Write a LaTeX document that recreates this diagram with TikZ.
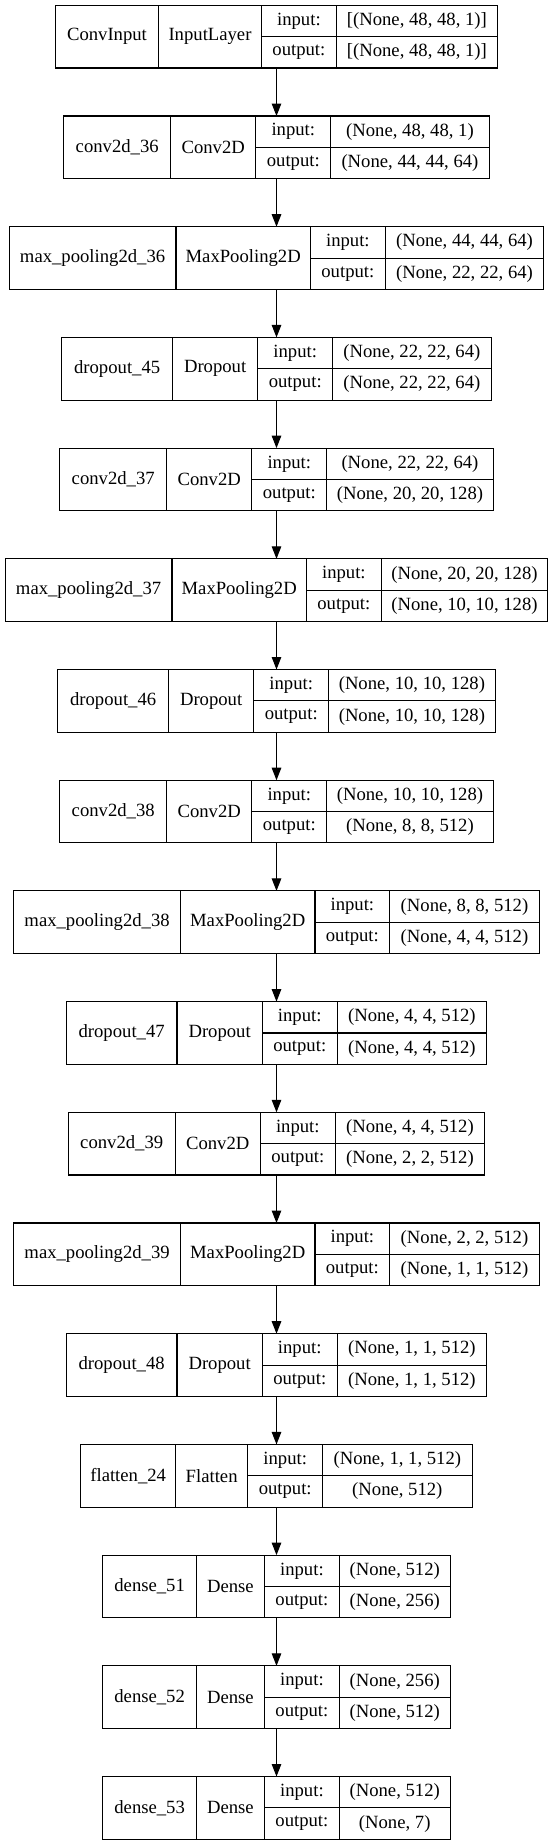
\documentclass[tikz,border=0pt]{standalone}
\usepackage{fontspec}
\setmainfont{Liberation Serif}
\usetikzlibrary{arrows.meta}

\tikzset{
  frame/.style = {rectangle, inner sep=0pt, outer sep=0pt, minimum height=62.7},
  cell/.style = {draw, rectangle, inner sep=0pt, outer sep=0pt, minimum height=62.7},
  half/.style = {draw, rectangle, inner sep=0pt, outer sep=0pt, minimum height=31.35},
  arr/.style = {-{Triangle[length=12.5pt, width=9.5pt]}}
}

% one keras layer: row, name width, type width, shape width, name, type, in, out
\newcommand{\layer}[8]{%
  \pgfmathsetmacro{\lw}{#2+#3+74.8+#4}
  \node[frame, minimum width=\lw] (L#1) at (276.5, {-(36.68+(#1-1)*110.7)}) {};
  \node[cell, minimum width=#2, anchor=north west] (n#1) at (L#1.north west) {#5};
  \node[cell, minimum width=#3, anchor=north west] (t#1) at (n#1.north east) {#6};
  \node[half, minimum width=74.8, anchor=north west] (i#1) at (t#1.north east) {input:};
  \node[half, minimum width=74.8, anchor=north west] (o#1) at (i#1.south west) {output:};
  \node[half, minimum width=#4, anchor=north west] (si#1) at (i#1.north east) {#7};
  \node[half, minimum width=#4, anchor=north west] (so#1) at (si#1.south west) {#8};
}

\begin{document}
\begin{tikzpicture}[x=1pt, y=1pt, line width=1.1pt,
    every node/.style={font=\fontsize{18.67pt}{22pt}\selectfont}]
  \path[fill=white] (0,0) rectangle (553,-1844);

  \layer{1}{103}{103}{161.2}{ConvInput}{InputLayer}{[(None, 48, 48, 1)]}{[(None, 48, 48, 1)]}
  \layer{2}{106.8}{85.3}{158.5}{conv2d\_36}{Conv2D}{(None, 48, 48, 1)}{(None, 44, 44, 64)}
  \layer{3}{166.7}{134.5}{158.5}{max\_pooling2d\_36}{MaxPooling2D}{(None, 44, 44, 64)}{(None, 22, 22, 64)}
  \layer{4}{110.6}{85.4}{158.5}{dropout\_45}{Dropout}{(None, 22, 22, 64)}{(None, 22, 22, 64)}
  \layer{5}{106.8}{85.3}{166.5}{conv2d\_37}{Conv2D}{(None, 22, 22, 64)}{(None, 20, 20, 128)}
  \layer{6}{166.7}{134.5}{166.5}{max\_pooling2d\_37}{MaxPooling2D}{(None, 20, 20, 128)}{(None, 10, 10, 128)}
  \layer{7}{110.6}{85.4}{166.5}{dropout\_46}{Dropout}{(None, 10, 10, 128)}{(None, 10, 10, 128)}
  \layer{8}{106.8}{85.3}{166.5}{conv2d\_38}{Conv2D}{(None, 10, 10, 128)}{(None, 8, 8, 512)}
  \layer{9}{166.7}{134.5}{149.5}{max\_pooling2d\_38}{MaxPooling2D}{(None, 8, 8, 512)}{(None, 4, 4, 512)}
  \layer{10}{110.6}{85.4}{149.5}{dropout\_47}{Dropout}{(None, 4, 4, 512)}{(None, 4, 4, 512)}
  \layer{11}{106.8}{85.3}{149.5}{conv2d\_39}{Conv2D}{(None, 4, 4, 512)}{(None, 2, 2, 512)}
  \layer{12}{166.7}{134.5}{149.5}{max\_pooling2d\_39}{MaxPooling2D}{(None, 2, 2, 512)}{(None, 1, 1, 512)}
  \layer{13}{110.6}{85.4}{149.5}{dropout\_48}{Dropout}{(None, 1, 1, 512)}{(None, 1, 1, 512)}
  \layer{14}{94.6}{72.3}{149.5}{flatten\_24}{Flatten}{(None, 1, 1, 512)}{(None, 512)}
  \layer{15}{93.5}{68.1}{110.8}{dense\_51}{Dense}{(None, 512)}{(None, 256)}
  \layer{16}{93.5}{68.1}{110.8}{dense\_52}{Dense}{(None, 256)}{(None, 512)}
  \layer{17}{93.5}{68.1}{110.8}{dense\_53}{Dense}{(None, 512)}{(None, 7)}

  \foreach \i [evaluate=\i as \j using int(\i+1)] in {1,...,16}
    \draw[arr] (L\i) -- (L\j);
\end{tikzpicture}
\end{document}
